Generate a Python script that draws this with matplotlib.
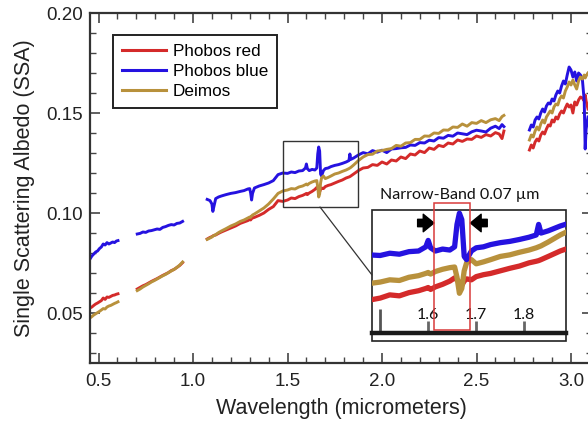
import numpy as np
import matplotlib
matplotlib.use("Agg")
import matplotlib.pyplot as plt
import matplotlib.ticker as mtick
from matplotlib.patches import Rectangle, ConnectionPatch

plt.rcParams['font.family'] = ['Liberation Sans', 'DejaVu Sans']

# ---- spectra, four wavelength segments ----
wl1 = [0.455, 0.465, 0.475, 0.485, 0.495, 0.505, 0.515, 0.525, 0.535, 0.545,
       0.555, 0.565, 0.575, 0.585, 0.595, 0.603]
blue1 = [0.0770, 0.0785, 0.0795, 0.0805, 0.0810, 0.0822, 0.0830, 0.0845, 0.0840, 0.0852,
         0.0845, 0.0850, 0.0855, 0.0852, 0.0860, 0.0862]
red1 = [0.0525, 0.0530, 0.0538, 0.0545, 0.0550, 0.0556, 0.0562, 0.0575, 0.0568, 0.0580,
        0.0578, 0.0583, 0.0588, 0.0590, 0.0594, 0.0596]
gold1 = [0.0475, 0.0482, 0.0490, 0.0496, 0.0502, 0.0508, 0.0515, 0.0522, 0.0520, 0.0530,
         0.0535, 0.0538, 0.0543, 0.0548, 0.0552, 0.0556]

wl2 = [0.705, 0.72, 0.735, 0.75, 0.765, 0.78, 0.795, 0.81, 0.825, 0.84,
       0.855, 0.87, 0.885, 0.90, 0.915, 0.93, 0.945]
blue2 = [0.0895, 0.0898, 0.0905, 0.0903, 0.0910, 0.0912, 0.0916, 0.0920, 0.0918, 0.0928,
         0.0932, 0.0938, 0.0942, 0.0940, 0.0948, 0.0950, 0.0958]
red2 = [0.0620, 0.0628, 0.0636, 0.0642, 0.0650, 0.0658, 0.0665, 0.0672, 0.0680, 0.0688,
        0.0695, 0.0702, 0.0712, 0.0718, 0.0728, 0.0738, 0.0752]
gold2 = [0.0612, 0.0620, 0.0630, 0.0638, 0.0646, 0.0655, 0.0662, 0.0670, 0.0678, 0.0686,
         0.0693, 0.0702, 0.0710, 0.0718, 0.0728, 0.0740, 0.0755]

wl3 = [1.075, 1.09, 1.10, 1.105, 1.11, 1.12, 1.135, 1.15, 1.175, 1.20,
       1.225, 1.25, 1.27, 1.29, 1.30, 1.305, 1.31, 1.315, 1.325, 1.35,
       1.375, 1.40, 1.425, 1.45, 1.475, 1.50, 1.52, 1.54, 1.56, 1.58,
       1.595, 1.60, 1.605, 1.615, 1.63, 1.645, 1.655, 1.66, 1.665, 1.67,
       1.675, 1.68, 1.69, 1.70, 1.715, 1.73, 1.75, 1.77, 1.79, 1.81,
       1.825, 1.83, 1.835, 1.85, 1.875, 1.90, 1.925, 1.95, 1.975, 2.00,
       2.025, 2.05, 2.075, 2.10, 2.125, 2.15, 2.175, 2.20, 2.225, 2.25,
       2.275, 2.30, 2.325, 2.35, 2.375, 2.40, 2.425, 2.45, 2.475, 2.50,
       2.525, 2.55, 2.575, 2.60, 2.62, 2.635, 2.645]
blue3 = [0.1068, 0.1062, 0.1045, 0.1008, 0.1030, 0.1072, 0.1080, 0.1085, 0.1092, 0.1098,
         0.1102, 0.1108, 0.1112, 0.1120, 0.1122, 0.1100, 0.1065, 0.1098, 0.1125, 0.1135,
         0.1142, 0.1150, 0.1162, 0.1192, 0.1200, 0.1198, 0.1205, 0.1202, 0.1210, 0.1212,
         0.1225, 0.1245, 0.1222, 0.1212, 0.1218, 0.1215, 0.1225, 0.1295, 0.1330, 0.1310,
         0.1195, 0.1185, 0.1212, 0.1222, 0.1225, 0.1232, 0.1238, 0.1242, 0.1248, 0.1255,
         0.1262, 0.1295, 0.1268, 0.1275, 0.1290, 0.1302, 0.1296, 0.1312, 0.1304, 0.1314,
         0.1302, 0.1320, 0.1322, 0.1326, 0.1328, 0.1340, 0.1338, 0.1352, 0.1350, 0.1364,
         0.1360, 0.1377, 0.1374, 0.1388, 0.1384, 0.1400, 0.1396, 0.1392, 0.1406, 0.1414,
         0.1410, 0.1405, 0.1424, 0.1434, 0.1422, 0.1442, 0.1432]
red3 = [0.0870, 0.0878, 0.0882, 0.0885, 0.0888, 0.0890, 0.0898, 0.0905, 0.0915, 0.0925,
        0.0935, 0.0948, 0.0955, 0.0962, 0.0968, 0.0965, 0.0972, 0.0975, 0.0978, 0.0988,
        0.1000, 0.1018, 0.1032, 0.1062, 0.1058, 0.1065, 0.1075, 0.1072, 0.1082, 0.1088,
        0.1095, 0.1098, 0.1092, 0.1100, 0.1108, 0.1118, 0.1128, 0.1122, 0.1115, 0.1105,
        0.1118, 0.1125, 0.1122, 0.1132, 0.1138, 0.1142, 0.1150, 0.1158, 0.1165, 0.1175,
        0.1180, 0.1182, 0.1185, 0.1195, 0.1212, 0.1225, 0.1228, 0.1242, 0.1238, 0.1255,
        0.1245, 0.1265, 0.1260, 0.1280, 0.1272, 0.1295, 0.1290, 0.1310, 0.1302, 0.1325,
        0.1318, 0.1338, 0.1332, 0.1350, 0.1345, 0.1365, 0.1358, 0.1370, 0.1368, 0.1385,
        0.1378, 0.1392, 0.1385, 0.1402, 0.1395, 0.1372, 0.1410]
gold3 = [0.0868, 0.0875, 0.0880, 0.0884, 0.0887, 0.0892, 0.0902, 0.0910, 0.0922, 0.0935,
         0.0945, 0.0958, 0.0965, 0.0975, 0.0980, 0.0978, 0.0985, 0.0990, 0.0995, 0.1010,
         0.1025, 0.1045, 0.1070, 0.1098, 0.1110, 0.1115, 0.1122, 0.1120, 0.1130, 0.1135,
         0.1142, 0.1145, 0.1140, 0.1148, 0.1155, 0.1160, 0.1162, 0.1130, 0.1080, 0.1095,
         0.1150, 0.1175, 0.1185, 0.1172, 0.1178, 0.1185, 0.1195, 0.1200, 0.1208, 0.1215,
         0.1222, 0.1225, 0.1228, 0.1240, 0.1262, 0.1280, 0.1292, 0.1294, 0.1310, 0.1312,
         0.1318, 0.1322, 0.1338, 0.1334, 0.1350, 0.1352, 0.1368, 0.1368, 0.1385, 0.1384,
         0.1400, 0.1398, 0.1415, 0.1414, 0.1430, 0.1428, 0.1445, 0.1434, 0.1452, 0.1448,
         0.1462, 0.1452, 0.1466, 0.1472, 0.1462, 0.1482, 0.1488]

wl4 = [2.78, 2.79, 2.80, 2.81, 2.82, 2.83, 2.84, 2.85, 2.86, 2.87,
       2.88, 2.89, 2.90, 2.91, 2.92, 2.93, 2.94, 2.95, 2.96, 2.97,
       2.98, 2.99, 3.00, 3.01, 3.02, 3.03, 3.04, 3.05, 3.06, 3.07,
       3.075, 3.08, 3.09]
blue4 = [0.1415, 0.1440, 0.1430, 0.1465, 0.1480, 0.1470, 0.1500, 0.1520, 0.1505, 0.1535,
         0.1550, 0.1545, 0.1570, 0.1560, 0.1590, 0.1610, 0.1600, 0.1635, 0.1660, 0.1645,
         0.1690, 0.1730, 0.1715, 0.1680, 0.1705, 0.1660, 0.1700, 0.1690, 0.1670, 0.1560,
         0.1320, 0.1420, 0.1480]
gold4 = [0.1365, 0.1390, 0.1380, 0.1410, 0.1430, 0.1415, 0.1445, 0.1465, 0.1450, 0.1480,
         0.1495, 0.1510, 0.1500, 0.1530, 0.1545, 0.1540, 0.1570, 0.1585, 0.1575, 0.1610,
         0.1630, 0.1655, 0.1640, 0.1665, 0.1640, 0.1620, 0.1660, 0.1680, 0.1670, 0.1690,
         0.1675, 0.1685, 0.1700]
red4 = [0.1315, 0.1340, 0.1325, 0.1355, 0.1370, 0.1360, 0.1390, 0.1405, 0.1395, 0.1420,
        0.1440, 0.1435, 0.1465, 0.1455, 0.1480, 0.1470, 0.1495, 0.1510, 0.1500, 0.1525,
        0.1545, 0.1530, 0.1540, 0.1500, 0.1555, 0.1540, 0.1565, 0.1580, 0.1575, 0.1560,
        0.1590, 0.1560, 0.1520]

series_names = ["Phobos red", "Phobos blue", "Deimos"]
colors = {"Phobos red": "#d42a2a", "Phobos blue": "#2512e0", "Deimos": "#b8913c"}
segments = [
    (wl1, {"Phobos red": red1, "Phobos blue": blue1, "Deimos": gold1}),
    (wl2, {"Phobos red": red2, "Phobos blue": blue2, "Deimos": gold2}),
    (wl3, {"Phobos red": red3, "Phobos blue": blue3, "Deimos": gold3}),
    (wl4, {"Phobos red": red4, "Phobos blue": blue4, "Deimos": gold4}),
]

W, H = 588, 426
fig = plt.figure(figsize=(W / 100, H / 100), dpi=100)

# main axes (right edge runs past the figure like the cropped original)
ax = fig.add_axes([90 / W, 63 / H, 502 / W, 350 / H])
for name in series_names:
    for k, (wl, vals) in enumerate(segments):
        ax.plot(wl, vals[name], color=colors[name], lw=2.1,
                label=name if k == 0 else None, solid_joinstyle='round')

ax.set_xlim(0.455, 0.455 + 502 / 189)
ax.set_ylim(0.025, 0.20)
ax.xaxis.set_major_locator(mtick.MultipleLocator(0.5))
ax.xaxis.set_minor_locator(mtick.MultipleLocator(0.1))
ax.yaxis.set_major_locator(mtick.MultipleLocator(0.05))
ax.yaxis.set_minor_locator(mtick.MultipleLocator(0.01))
ax.xaxis.set_major_formatter(mtick.FormatStrFormatter('%.1f'))
ax.yaxis.set_major_formatter(mtick.FormatStrFormatter('%.2f'))
ax.tick_params(which='both', direction='in', top=True, right=True,
               color='#444444', labelcolor='#222222', labelsize=13.5)
ax.tick_params(which='major', length=7, width=1.2)
ax.tick_params(which='minor', length=4, width=1.0)
ax.tick_params(axis='x', pad=7)
ax.tick_params(axis='y', pad=5)
for s in ax.spines.values():
    s.set_color('#333333')
    s.set_linewidth(1.6)

ax.set_xlabel("Wavelength (micrometers)", fontsize=15.5, color='#222222', labelpad=6)
ax.set_ylabel("Single Scattering Albedo (SSA)", fontsize=15.5, color='#222222', labelpad=8)

leg = ax.legend(loc='upper left', bbox_to_anchor=(23 / 502, 328 / 350), borderaxespad=0,
                fancybox=False, framealpha=1, edgecolor='#222222', fontsize=12.3,
                handlelength=2.6, handletextpad=0.4, labelspacing=0.32, borderpad=0.5)
leg.get_frame().set_linewidth(1.4)
for line in leg.get_lines():
    line.set_linewidth(2.2)

# zoom region marker on the main plot
ax.add_patch(Rectangle((1.475, 0.103), 0.40, 0.033, fill=False,
                       edgecolor='#333333', lw=1.0, zorder=5))

# ---- inset ----
inset_l, inset_r, inset_t, inset_base, inset_b = 372, 566, 210, 333, 341
fig.add_artist(Rectangle((inset_l / W, 1 - inset_b / H), (inset_r - inset_l) / W,
                         (inset_b - inset_t) / H, transform=fig.transFigure,
                         facecolor='white', edgecolor='#222222', lw=1.2, zorder=3))
axi = fig.add_axes([inset_l / W, 1 - inset_base / H, (inset_r - inset_l) / W,
                    (inset_base - inset_t) / H], zorder=4)
axi.patch.set_alpha(0)
for name in ["Phobos red", "Deimos", "Phobos blue"]:
    axi.plot(wl3, segments[2][1][name], color=colors[name], lw=3.8, solid_joinstyle='round')
axi.set_xlim(1.483, 1.887)
axi.set_ylim(0.0956, 0.134)
for side in ['top', 'left', 'right']:
    axi.spines[side].set_visible(False)
axi.spines['bottom'].set_linewidth(3.2)
axi.spines['bottom'].set_color('#1a1a1a')
axi.set_yticks([])
axi.xaxis.set_major_locator(mtick.FixedLocator([1.5]))
axi.xaxis.set_major_formatter(mtick.NullFormatter())
axi.xaxis.set_minor_locator(mtick.FixedLocator([1.6, 1.7, 1.8]))
axi.xaxis.set_minor_formatter(mtick.FixedFormatter(['1.6', '1.7', '1.8']))
axi.tick_params(which='major', direction='in', length=17, width=2, color='#555555')
axi.tick_params(which='minor', direction='in', length=9, width=2, color='#666666',
                pad=-18, labelsize=11.5, labelcolor='#111111')
for lab in axi.xaxis.get_minorticklabels():
    lab.set_fontfamily(['Lato', 'DejaVu Sans'])

# narrow band box and arrows
y_px = (0.134 - 0.0956) / (inset_base - inset_t)
axi.add_patch(Rectangle((1.6122, 0.0956 + 3 * y_px), 0.075, (127) * y_px, fill=False,
                        edgecolor='#d93a3a', lw=1.1, clip_on=False, zorder=6))
arrow_y = 0.134 - 13 * y_px
arrow_kw = dict(arrowstyle='simple,head_length=0.55,head_width=0.9,tail_width=0.38',
                color='black', shrinkA=0, shrinkB=0, mutation_scale=14)
axi.annotate('', xy=(1.612, arrow_y), xytext=(1.578, arrow_y), arrowprops=arrow_kw,
             annotation_clip=False)
axi.annotate('', xy=(1.688, arrow_y), xytext=(1.723, arrow_y), arrowprops=arrow_kw,
             annotation_clip=False)
fig.text(460 / W, 1 - 195 / H, "Narrow-Band 0.07 \u00b5m", ha='center', va='center',
         fontsize=11.5, family=['Lato', 'DejaVu Sans'], color='#111111')

# connector from zoom box to inset
con = ConnectionPatch(xyA=(1.672, 0.103), coordsA=ax.transData,
                      xyB=(inset_l / W, 1 - 275 / H), coordsB=fig.transFigure,
                      color='#333333', lw=0.9, zorder=6)
fig.add_artist(con)

fig.savefig("out.png", dpi=100)
